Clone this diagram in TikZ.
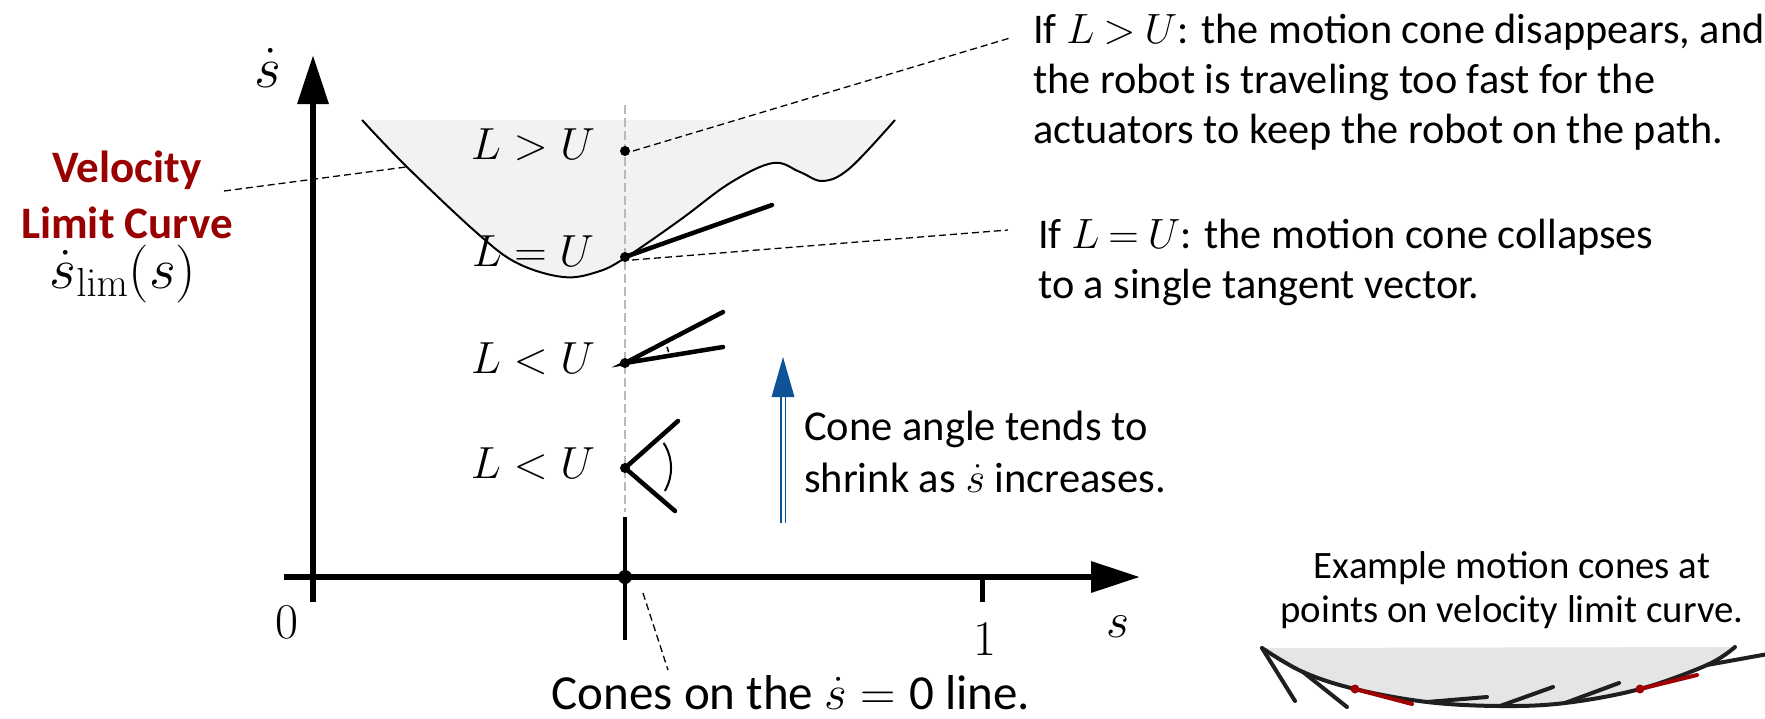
\documentclass[tikz,border=0pt]{standalone}
\usepackage{fix-cm}
\usepackage[no-math]{fontspec}
\setmainfont{Carlito}
\usetikzlibrary{arrows.meta}
\definecolor{vlcred}{RGB}{153,0,0}
\definecolor{conered}{RGB}{160,0,0}
\definecolor{arrowblue}{RGB}{15,82,152}
\newcommand{\rel}[1]{\mkern-1.2mu#1\mkern-1.2mu}
\begin{document}
\begin{tikzpicture}[x=1pt,y=-1pt,
  axisline/.style={line width=6.5pt, -{Triangle[length=49pt,width=30pt]}},
  tickline/.style={line width=5pt},
  conel/.style={line width=4.5pt, line cap=round},
  vlcurve/.style={line width=2pt},
  leader/.style={line width=1.3pt, dash pattern=on 7pt off 4pt},
  guide/.style={line width=1.3pt, gray!55, dash pattern=on 9pt off 4pt},
  dotc/.style={circle, fill=black, inner sep=0pt, minimum size=10pt},
  reddot/.style={circle, fill=conered, inner sep=0pt, minimum size=9pt},
  mathlbl/.style={font=\fontsize{45}{54}\selectfont, inner sep=0pt, anchor=base},
  axlbl/.style={font=\fontsize{50}{60}\selectfont, inner sep=0pt, anchor=base},
  txt/.style={font=\fontsize{42.3}{50}\selectfont, align=left, inner sep=0pt, anchor=base west},
  excone/.style={line width=4pt, line cap=round, black!88},
  exred/.style={line width=4pt, line cap=round, conered},
]
\useasboundingbox (0,0) rectangle (1765,718);

% shaded region and velocity limit curve
\fill[gray!10] plot[smooth, tension=0.6] coordinates {(362,120) (407,167) (477,233) (517,263) (563,277) (597,272) (625,258) (680,220) (730,183) (773,163) (800,172) (823,181) (850,168) (895,120)} -- cycle;
\draw[vlcurve] plot[smooth, tension=0.6] coordinates {(362,120) (407,167) (477,233) (517,263) (563,277) (597,272) (625,258) (680,220) (730,183) (773,163) (800,172) (823,181) (850,168) (895,120)};

% guide line
\coordinate (gtop) at (625,105);
\coordinate (gbot) at (625,512);
\draw[guide] (gtop) -- (gbot);

% axes
\coordinate (yb) at (313,602);
\coordinate (yt) at (313,55);
\coordinate (xl) at (284,577);
\coordinate (xr) at (1140,577);
\draw[axisline] (yb) -- (yt);
\draw[axisline] (xl) -- (xr);
\coordinate (t1a) at (982,577);
\coordinate (t1b) at (982,602);
\draw[tickline] (t1a) -- (t1b);
\coordinate (tma) at (625,517);
\coordinate (tmb) at (625,640);
\draw[line width=4.5pt] (tma) -- (tmb);
\node[dotc, minimum size=14pt] (d0) at (625,577) {};

\node[axlbl] (l0) at (287,638) {$0$};
\node[axlbl] (l1) at (985,655) {$1$};
\node[axlbl] (ls) at (1118,637) {$s$};
\node[axlbl, font=\fontsize{58}{66}\selectfont] (lsd) at (268,87) {$\dot{s}$};

% L/U labels
\node[mathlbl] (lgt) at (533,159) {$L > U$};
\node[mathlbl] (leq) at (533,266) {$L = U$};
\node[mathlbl] (llt1) at (533,373) {$L < U$};
\node[mathlbl] (llt2) at (533,478) {$L < U$};

% cone points
\node[dotc] (pgt) at (625,151) {};
\node[dotc] (peq) at (625,257) {};
\node[dotc] (plt1) at (625,363) {};
\node[dotc] (plt2) at (625,468) {};

% cones
\coordinate (ceq) at (772,205);
\draw[conel] (peq.center) -- (ceq);
\coordinate (c1a) at (723,312);
\coordinate (c1b) at (723,347);
\draw[conel] (c1a) -- (plt1.center) -- (c1b);
\draw[line width=1.5pt] (667,346.9) arc[start angle=21, end angle=14, radius=45pt];
\coordinate (c2a) at (678,421);
\coordinate (c2b) at (675,511);
\draw[conel] (c2a) -- (plt2.center) -- (c2b);
\draw[line width=2pt] (663.6,442.9) arc[start angle=33, end angle=-30, radius=46pt];

% left label
\node[font=\fontsize{45}{56}\selectfont\bfseries, text=vlcred, align=center, inner sep=0pt, anchor=base] (vlc) at (127,238) {Velocity\\Limit Curve};
\node[font=\fontsize{58}{66}\selectfont, inner sep=0pt, anchor=base] (slim) at (123,288) {$\dot{s}_{\mathrm{lim}}(s)$};
\coordinate (vlcL) at (224,191);
\coordinate (vlcC) at (406,167);
\draw[leader] (vlcL) -- (vlcC);

% right texts
\node[txt] (tgt) at (1033,143) {If $L \rel{>} U$: the motion cone disappears, and\\the robot is traveling too fast for the\\actuators to keep the robot on the path.};
\node[txt] (teq) at (1038,298) {If $L \rel{=} U$: the motion cone collapses\\to a single tangent vector.};
\coordinate (egt) at (1010,38);
\coordinate (eeq) at (1008,230);
\draw[leader] ([xshift=8pt]pgt.center) -- (egt);
\draw[leader] ([xshift=7pt,yshift=-3pt]peq.center) -- (eeq);

% blue arrow
\coordinate (bt) at (783,357);
\draw[arrowblue, line width=1.8pt] (780.6,523) -- (780.6,395) (785.4,523) -- (785.4,395);
\fill[arrowblue] (bt) -- (771.5,397) -- (794.5,397) -- cycle;
\node[font=\fontsize{42.5}{52}\selectfont, align=left, inner sep=0pt, anchor=base west] (tcone) at (804,492) {Cone angle tends to\\shrink as $\dot{s}$ increases.};

% s-dot = 0 label
\node[font=\fontsize{49}{56}\selectfont, inner sep=0pt, anchor=base] (tzero) at (791,709) {Cones on the $\dot{s} = \mbox{0}$ line.};
\coordinate (z1) at (643,593);
\coordinate (z2) at (668,670);
\draw[leader] (z1) -- (z2);

% example
\node[font=\fontsize{38.8}{44}\selectfont, align=center, inner sep=0pt, anchor=base] (tex) at (1512,622) {Example motion cones at\\points on velocity limit curve.};
\fill[gray!20] plot[smooth, tension=0.6] coordinates {(1262,648) (1303,672) (1355,689) (1427,702) (1500,706) (1565,703) (1640,689) (1707,665) (1735,647)} -- cycle;
\draw[excone] plot[smooth, tension=0.6] coordinates {(1262,648) (1303,672) (1355,689) (1427,702) (1500,706) (1565,703) (1640,689) (1707,665) (1735,647)};
\draw[excone] (1262,648) -- (1295,701);
\draw[excone] (1303,672) -- (1347,707);
\draw[excone] (1427,702) -- (1487,697);
\draw[excone] (1500,706) -- (1553,687);
\draw[excone] (1565,703) -- (1619,683);
\draw[excone] (1707,665) -- (1768,654);
\node[reddot] (r1) at (1355,689) {};
\node[reddot] (r2) at (1640,689) {};
\coordinate (r1e) at (1412,704);
\coordinate (r2e) at (1697,675);
\draw[exred] (r1.center) -- (r1e);
\draw[exred] (r2.center) -- (r2e);
\end{tikzpicture}
\end{document}
